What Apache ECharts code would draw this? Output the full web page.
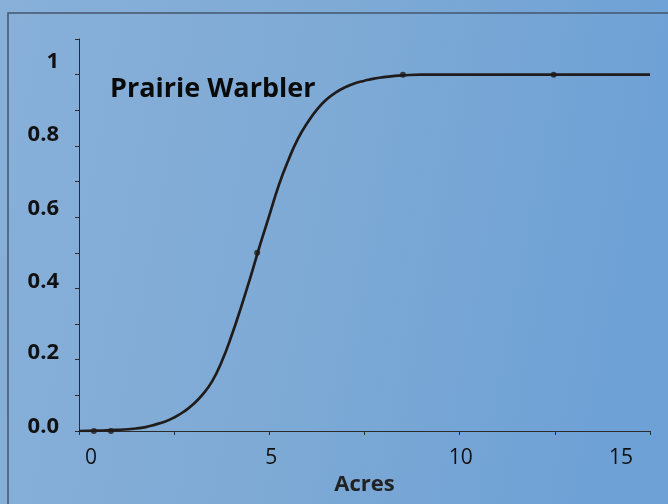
<!DOCTYPE html>
<html>
<head>
<meta charset="utf-8">
<script src="https://cdn.jsdelivr.net/npm/echarts@6/dist/echarts.min.js"></script>
<style>
  html, body { margin: 0; padding: 0; }
  #chart { width: 668px; height: 504px; }
</style>
</head>
<body>
<div id="chart"></div>
<script>
// curve (acres -> probability)
const curveX = [0, 0.5, 1, 1.5, 1.75, 2, 2.25, 2.5, 2.75, 3, 3.25, 3.5, 3.75, 4, 4.25, 4.5, 4.75, 5, 5.25, 5.5, 5.75, 6, 6.25, 6.5, 6.75, 7, 7.25, 7.5, 7.75, 8, 8.25, 8.5, 9, 10, 12.5, 15];
const curveY = [0, 0.001, 0.003, 0.007, 0.011, 0.018, 0.026, 0.038, 0.054, 0.075, 0.103, 0.14, 0.195, 0.265, 0.345, 0.43, 0.52, 0.605, 0.69, 0.76, 0.82, 0.865, 0.902, 0.93, 0.95, 0.965, 0.976, 0.983, 0.989, 0.993, 0.996, 0.998, 1, 1, 1, 1];
// the observed points drawn as dots
const dotX = [0.39, 0.84, 4.68, 8.51, 12.47];
const dotY = [0, 0, 0.5, 1, 1];
// tick labels
const xLabels = ['0', '5', '10', '15'];
const yLabels = ['0.0', '0.2', '0.4', '0.6', '0.8', '1'];

const font = 'Open Sans';
const ink = '#111';

let chart = echarts.init(document.getElementById('chart'));

// y labels sit a little above their ticks in the original, more so near the top
const yRich = {};
const yPad = [8, 14, 14, 17, 22, 25];
yLabels.forEach(function (t, i) {
  yRich['y' + i] = { fontFamily: font, fontWeight: 'bold', fontSize: 22, color: ink, padding: [0, 0, yPad[i], 0] };
});

const xRich = {
  x0: { fontFamily: font, fontSize: 21, color: ink, padding: [0, 0, 0, 24] },
  x1: { fontFamily: font, fontSize: 21, color: ink, padding: [0, 0, 0, 4] },
  x2: { fontFamily: font, fontSize: 21, color: ink, padding: [0, 0, 0, 2] },
  x3: { fontFamily: font, fontSize: 21, color: ink, padding: [0, 58, 0, 0] }
};

const option = {
  animation: false,
  backgroundColor: {
    type: 'linear', x: 0, y: 0, x2: 1, y2: 0.25,
    colorStops: [
      { offset: 0, color: '#88b0d9' },
      { offset: 0.5, color: '#7eaad5' },
      { offset: 1, color: '#6ea1d6' }
    ]
  },
  title: {
    text: 'Prairie Warbler',
    left: 110,
    top: 76,
    padding: 0,
    textStyle: { fontFamily: font, fontWeight: 'bold', fontSize: 27, color: '#0a0a0a' }
  },
  // frame of the slide
  graphic: [{
    type: 'polyline',
    shape: { points: [[8, 504], [8, 13], [668, 13]] },
    style: { stroke: '#45556b', lineWidth: 1.5, fill: null }
  }],
  grid: { left: 79, right: 18, top: 39, bottom: 73 },
  xAxis: {
    type: 'value',
    min: 0,
    max: 15,
    interval: 2.5,
    name: 'Acres',
    nameLocation: 'middle',
    nameGap: 37,
    nameTextStyle: { fontFamily: font, fontWeight: 'bold', fontSize: 22, color: '#222' },
    axisLine: { show: true, lineStyle: { color: '#2b2b2b', width: 1 } },
    axisTick: { show: true, length: 4, lineStyle: { color: '#2b2b2b' } },
    splitLine: { show: false },
    axisLabel: {
      margin: 17,
      showMinLabel: true,
      showMaxLabel: true,
      formatter: function (v) {
        if (v % 5 !== 0) return '';
        const i = v / 5;
        return '{x' + i + '|' + xLabels[i] + '}';
      },
      rich: xRich
    }
  },
  yAxis: {
    type: 'value',
    min: 0,
    max: 1.1,
    interval: 0.1,
    axisLine: { show: true, lineStyle: { color: '#2b2b2b', width: 1 } },
    axisTick: { show: true, length: 4, lineStyle: { color: '#2b2b2b' } },
    splitLine: { show: false },
    axisLabel: {
      margin: 20,
      formatter: function (v) {
        const k = Math.round(v * 10);
        if (k % 2 !== 0 || k > 10) return '';
        const i = k / 2;
        return '{y' + i + '|' + yLabels[i] + '}';
      },
      rich: yRich
    }
  },
  series: [
    {
      type: 'line',
      data: curveX.map(function (x, i) { return [x, curveY[i]]; }),
      smooth: 0.5,
      showSymbol: false,
      lineStyle: { color: '#201c1c', width: 2.7 },
      z: 2
    },
    {
      type: 'scatter',
      data: dotX.map(function (x, i) { return [x, dotY[i]]; }),
      symbolSize: 6,
      itemStyle: { color: '#201c1c' },
      z: 3
    }
  ]
};

chart.setOption(option);
</script>
</body>
</html>
